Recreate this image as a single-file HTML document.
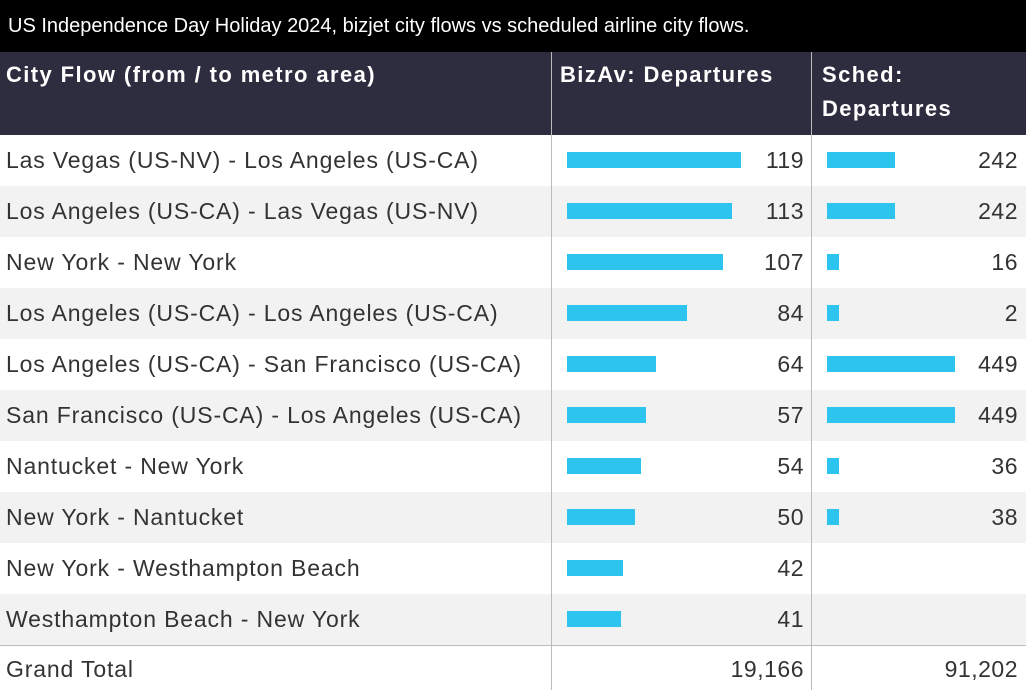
<!DOCTYPE html>
<html><head><meta charset="utf-8"><style>
html,body{margin:0;padding:0;width:1026px;height:690px;overflow:hidden;background:#fff;font-family:"Liberation Sans",sans-serif;}
#title{position:absolute;left:0;top:0;width:1026px;height:52px;background:#000;color:#fff;font-size:20px;line-height:52px;padding-left:8px;box-sizing:border-box;}
#hdr{position:absolute;left:0;top:52px;width:1026px;height:83px;background:#2d2d3f;}
.h{position:absolute;color:#fff;font-weight:bold;font-size:22px;line-height:34px;top:6px;letter-spacing:1.4px;}
.vl{position:absolute;width:1px;background:#bbb;}
.row{position:absolute;left:0;width:1026px;height:51px;}
.lab{position:absolute;left:6px;font-size:23px;color:#333;line-height:51px;letter-spacing:0.85px;}
.num{position:absolute;font-size:23px;color:#333;line-height:51px;text-align:right;letter-spacing:0.5px;}
.bar{position:absolute;height:16px;background:#2ec4f0;top:17px;}
</style></head><body>
<div id="title">US Independence Day Holiday 2024, bizjet city flows vs scheduled airline city flows.</div>
<div id="hdr">
<div class="h" style="left:6px">City Flow (from / to metro area)</div>
<div class="h" style="left:560px">BizAv: Departures</div>
<div class="h" style="left:822px">Sched:<br>Departures</div>
</div>
<div id="body"></div>
<script>
const cities=["Las Vegas (US-NV) - Los Angeles (US-CA)","Los Angeles (US-CA) - Las Vegas (US-NV)","New York - New York","Los Angeles (US-CA) - Los Angeles (US-CA)","Los Angeles (US-CA) - San Francisco (US-CA)","San Francisco (US-CA) - Los Angeles (US-CA)","Nantucket - New York","New York - Nantucket","New York - Westhampton Beach","Westhampton Beach - New York"];
const bizav=[119,113,107,84,64,57,54,50,42,41];
const sched=[242,242,16,2,449,449,36,38,null,null];
const totals=["19,166","91,202"];
const b=document.getElementById('body');
function xb(v){return Math.max(12,v*1.538-9);}
function xs(v){return Math.max(12,v*0.29-2);}
cities.forEach((c,i)=>{
 const r=document.createElement('div');
 r.className='row';r.style.top=(135+i*51)+'px';r.style.background=i%2?'#f2f2f2':'#fff';
 
 
 let h=`<div class="lab">${c}</div>`;
 h+=`<div class="bar" style="left:567px;width:${xb(bizav[i])}px"></div><div class="num" style="left:700px;width:104px">${bizav[i]}</div>`;
 if(sched[i]!==null)h+=`<div class="bar" style="left:827px;width:${xs(sched[i])}px"></div><div class="num" style="left:900px;width:118px">${sched[i]}</div>`;
 r.innerHTML=h;b.appendChild(r);
});
const t=document.createElement('div');
t.className='row';t.style.top='645px';t.style.height='45px';t.style.borderTop='1px solid #bbb';


t.innerHTML=`<div class="lab" style="line-height:46px">Grand Total</div><div class="num" style="left:700px;width:104px;line-height:46px">${totals[0]}</div><div class="num" style="left:900px;width:118px;line-height:46px">${totals[1]}</div>`;
b.appendChild(t);
[551,811].forEach(x=>{const v=document.createElement('div');v.className='vl';v.style.left=x+'px';v.style.top='52px';v.style.height='638px';


b.appendChild(v);});
</script>
</body></html>
